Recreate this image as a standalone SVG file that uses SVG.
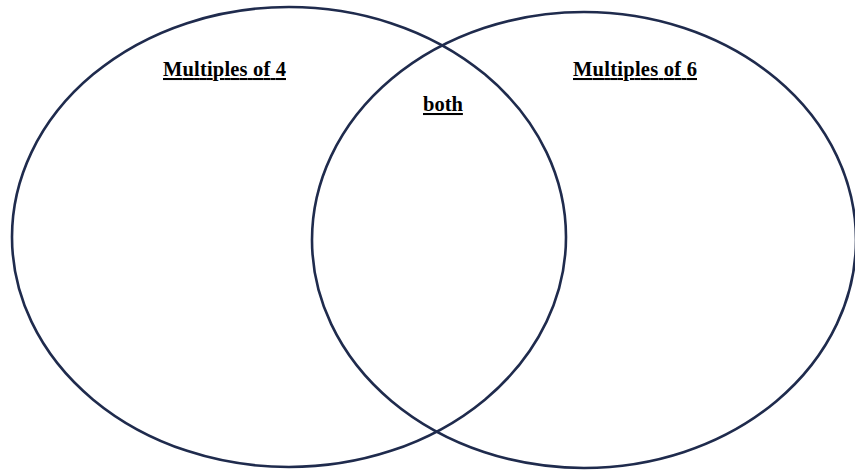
<svg xmlns="http://www.w3.org/2000/svg" width="855" height="471" viewBox="0 0 855 471">
<style>
.ring{fill:none;stroke:#1f2b4d;stroke-width:2.6}
.lbl{font-family:"Liberation Serif","Times New Roman",serif;font-weight:bold;font-size:20.5px;fill:#000;text-decoration:underline}
</style>
<rect width="855" height="471" fill="#fff"/>
<g id="set-4">
<ellipse class="ring" cx="289" cy="237" rx="277" ry="230"/>
<text class="lbl" x="163" y="76" textLength="123" lengthAdjust="spacing">Multiples of 4</text>
</g>
<g id="set-6">
<ellipse class="ring" cx="584" cy="240" rx="272" ry="228"/>
<text class="lbl" x="573" y="76" textLength="124" lengthAdjust="spacing">Multiples of 6</text>
</g>
<g id="both">
<text class="lbl" x="423" y="111" font-size="20px">both</text>
</g>
<g id="connectors"/>
</svg>
